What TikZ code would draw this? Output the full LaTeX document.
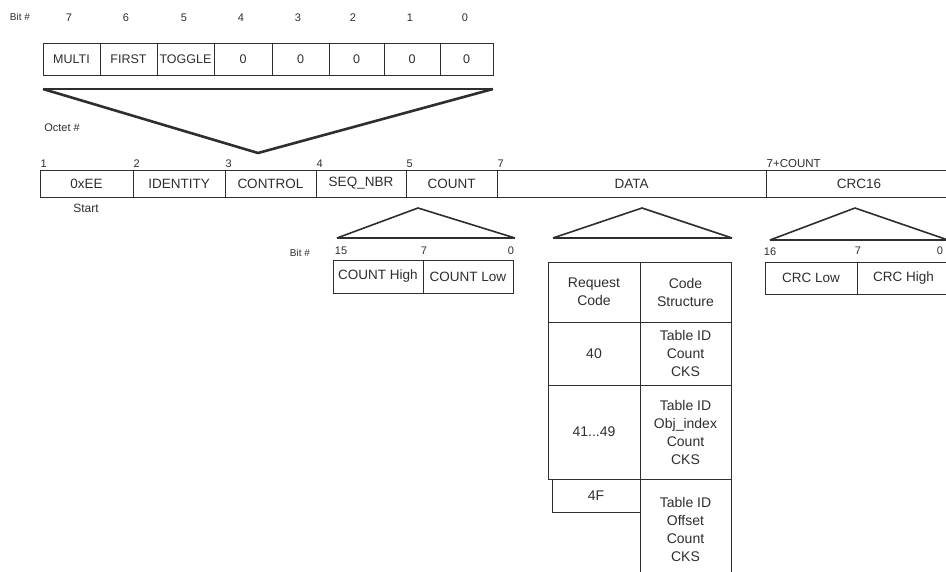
\documentclass[tikz,border=0pt]{standalone}
\usepackage{fontspec}
\setmainfont{Liberation Sans}
\definecolor{ink}{gray}{0.18}
\tikzset{
  cell/.style={draw=ink, line width=1pt, inner sep=0pt, align=center, text=ink,
               font=\fontsize{12.5}{14}\selectfont},
  framecell/.style={cell, font=\fontsize{13.5}{15}\selectfont},
  tabcell/.style={cell, font=\fontsize{14}{18}\selectfont},
  lbl/.style={inner sep=1pt, text=ink, font=\fontsize{11}{13}\selectfont},
  tri/.style={draw=ink, line width=1.6pt, line join=round},
  base/.style={draw=ink, line width=2.4pt}
}
\begin{document}
\begin{tikzpicture}[x=1pt,y=-1pt]
\useasboundingbox (0,0) rectangle (946,571);
% ---- bit numbers of the control octet
\node[lbl, font=\fontsize{10}{12}\selectfont] (bitlbl) at (20,17) {Bit \#};
\foreach \n/\x in {7/69,6/126,5/184,4/241,3/298,2/353,1/410,0/465}
  \node[lbl] (b\n) at (\x,18) {\n};
% ---- control octet
\node[cell, minimum width=57pt, minimum height=32pt] (multi)  at (71.5,59) {MULTI};
\node[cell, minimum width=57pt, minimum height=32pt] (first)  at (128.5,59) {FIRST};
\node[cell, minimum width=57pt, minimum height=32pt] (toggle) at (185.5,59) {TOGGLE};
\node[cell, minimum width=58pt, minimum height=32pt] (z4) at (243,59) {0};
\node[cell, minimum width=57pt, minimum height=32pt] (z3) at (300.5,59) {0};
\node[cell, minimum width=55pt, minimum height=32pt] (z2) at (356.5,59) {0};
\node[cell, minimum width=56pt, minimum height=32pt] (z1) at (412,59) {0};
\node[cell, minimum width=53pt, minimum height=32pt] (z0) at (466.5,59) {0};
% big triangle
\coordinate (bigL) at (43,89);
\coordinate (bigR) at (493,89);
\coordinate (bigA) at (258,153);
\draw[base, line width=1.6pt] (bigL) -- (bigR);
\draw[tri, line width=2.6pt] (bigL) -- (bigA) -- (bigR);
\node[lbl] (octet) at (62,128) {Octet \#};
% ---- frame
\node[framecell, minimum width=93pt, minimum height=27pt] (ee)    at (86.5,183.5) {0xEE};
\node[framecell, minimum width=92pt, minimum height=27pt] (ident) at (179,183.5) {IDENTITY};
\node[framecell, minimum width=91pt, minimum height=27pt] (ctrl)  at (270.5,183.5) {CONTROL};
\node[framecell, minimum width=90pt, minimum height=27pt] (seq)   at (361,183.5) {SEQ\_NBR};
\node[framecell, minimum width=91pt, minimum height=27pt] (count) at (451.5,183.5) {COUNT};
\node[framecell, minimum width=269pt, minimum height=27pt] (data) at (631.5,183.5) {DATA};
\node[framecell, minimum width=186pt, minimum height=27pt] (crc)  at (859,183.5) {CRC16};
\foreach \nm/\t in {ee/1,ident/2,ctrl/3,seq/4,count/5,data/7}
  \node[lbl, anchor=south west] (o\nm) at ([yshift=1pt]\nm.north west) {\t};
\node[lbl, anchor=south west, font=\fontsize{11.5}{13}\selectfont] (ocrc) at ([yshift=1pt]crc.north west) {7+COUNT};
\node[lbl, font=\fontsize{12}{14}\selectfont] (start) at (86,208) {Start};
% ---- COUNT detail
\coordinate (cA) at (418,208);
\coordinate (cL) at (337,238);
\coordinate (cR) at (515,238);
\draw[base] (cL) -- (cR);
\draw[tri] (cL) -- (cA) -- (cR);
\node[lbl, font=\fontsize{10}{12}\selectfont] (bit2) at (300,253) {Bit \#};
\node[lbl] (c15) at (341,251) {15};
\node[lbl] (c7)  at (424,251) {7};
\node[lbl] (c0)  at (511,251) {0};
\node[framecell, minimum width=90pt, minimum height=33pt] (chigh) at (378,276.5) {COUNT High};
\node[framecell, minimum width=90pt, minimum height=33pt] (clow)  at (468,276.5) {COUNT Low};
% ---- DATA detail
\coordinate (dA) at (642,208);
\coordinate (dL) at (553,238);
\coordinate (dR) at (732,238);
\draw[base] (dL) -- (dR);
\draw[tri] (dL) -- (dA) -- (dR);
\node[tabcell, minimum width=92pt, minimum height=60pt] (hreq)  at (594,292) {Request\\Code};
\node[tabcell, minimum width=91pt, minimum height=60pt] (hcode) at (685.5,292) {Code\\Structure};
\node[tabcell, minimum width=92pt, minimum height=63pt] (r40)   at (594,353.5) {40};
\node[tabcell, minimum width=91pt, minimum height=63pt] (s40)   at (685.5,353.5) {Table ID\\Count\\CKS};
\node[tabcell, minimum width=92pt, minimum height=94pt] (r41)   at (594,432) {41...49};
\node[tabcell, minimum width=91pt, minimum height=94pt] (s41)   at (685.5,432) {Table ID\\Obj\_index\\Count\\CKS};
\node[tabcell, minimum width=88pt, minimum height=33pt] (r4f)   at (596,495.5) {4F};
\node[tabcell, minimum width=91pt, minimum height=101pt] (s4f)  at (685.5,529.5) {Table ID\\Offset\\Count\\CKS};
% ---- CRC detail
\coordinate (kA) at (855,208);
\coordinate (kL) at (770,240);
\coordinate (kR) at (948,240);
\draw[base] (kL) -- (kR);
\draw[tri] (kL) -- (kA) -- (kR);
\node[lbl] (k16) at (770,252) {16};
\node[lbl] (k7)  at (858,251) {7};
\node[lbl] (k0)  at (940,251) {0};
\node[framecell, minimum width=92pt, minimum height=32pt] (clo) at (811,278) {CRC Low};
\node[framecell, minimum width=93pt, minimum height=32pt] (chi) at (903.5,278) {CRC High};
\end{tikzpicture}
\end{document}
